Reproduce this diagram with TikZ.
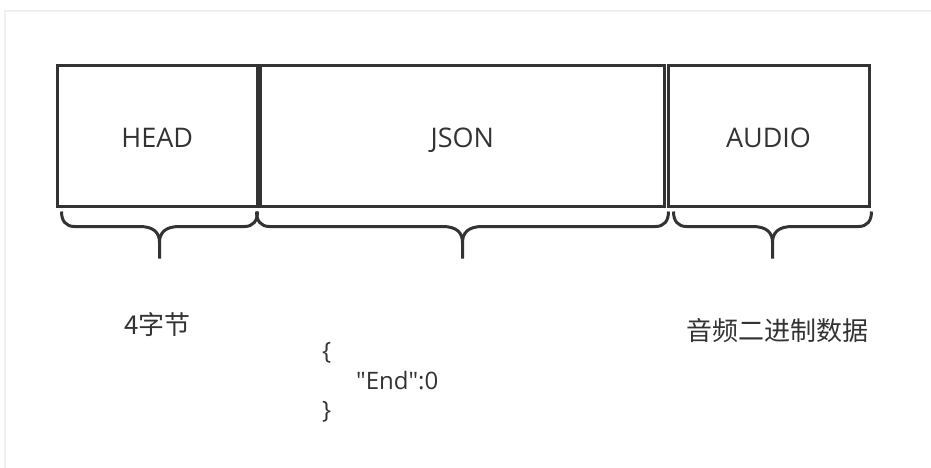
\documentclass[tikz,border=0pt]{standalone}
\usepackage{fontspec}
\setmainfont{Open Sans}
\newfontfamily\codefont{Open Sans}[Ligatures=TeXOff]
\newfontfamily\cjk{Noto Sans CJK SC}
\usetikzlibrary{calc}
\definecolor{ink}{HTML}{333333}
\definecolor{frame}{HTML}{F0F0F0}

\tikzset{
  field/.style={draw=ink, line width=3pt, minimum height=140pt, inner sep=0pt,
    text height=24pt, text depth=2pt, text=ink, font=\fontsize{27}{32}\selectfont},
  bracestroke/.style={draw=ink, line width=3pt, line join=round},
  note/.style={text=ink, font=\cjk\fontsize{26}{30}\selectfont},
  code/.style={text=ink, anchor=base west, inner sep=0pt, font=\codefont\fontsize{24}{30}\selectfont}
}

% curly brace under a field, from #1 to #2
\newcommand{\spanbrace}[2]{%
  \draw[bracestroke] let \p1=(#1), \p2=(#2), \n1={(\x1+\x2)/2} in
    (\x1,\y1) .. controls (\x1,\y1-9pt) and (\x1+4pt,\y1-15pt) .. (\x1+13pt,\y1-15pt)
    -- (\n1-20pt,\y1-15pt) .. controls (\n1-6pt,\y1-15pt) and (\n1,\y1-21pt) .. (\n1,\y1-31pt)
    -- (\n1,\y1-47pt)
    (\x2,\y1) .. controls (\x2,\y1-9pt) and (\x2-4pt,\y1-15pt) .. (\x2-13pt,\y1-15pt)
    -- (\n1+20pt,\y1-15pt) .. controls (\n1+6pt,\y1-15pt) and (\n1,\y1-21pt) .. (\n1,\y1-31pt);
}

\begin{document}
\begin{tikzpicture}[x=1pt,y=-1pt]
   \useasboundingbox (0,0) rectangle (931,468);
   \draw[frame, line width=1.5pt] (5,468) -- (5,11) -- (931,11);

   \node[field, minimum width=200.5pt] (head) at (157.25,136) {HEAD};
   \node[field, minimum width=404.5pt] (json) at (462.25,136) {JSON};
   \node[field, minimum width=201pt] (audio) at (768.5,136) {AUDIO};

   \coordinate (hl) at ([xshift=6pt,yshift=-4pt]head.south west);
   \coordinate (hr) at ([xshift=-1.5pt,yshift=-4pt]head.south east);
   \coordinate (jl) at ([xshift=-2pt,yshift=-4pt]json.south west);
   \coordinate (jr) at ([xshift=2.5pt,yshift=-4pt]json.south east);
   \coordinate (al) at ([xshift=7pt,yshift=-4pt]audio.south west);
   \coordinate (ar) at ([xshift=1pt,yshift=-4pt]audio.south east);
   \spanbrace{hl}{hr}
   \spanbrace{jl}{jr}
   \spanbrace{al}{ar}

   \node[note] (headsize) at (157.5,325) {4字节};
   \node[note] (audiodata) at (777.5,331) {音频二进制数据};
   \node[code] (jsonopen) at (322,359) {\{};
   \node[code] (jsonfield) at (356,389) {"End":0};
   \node[code] (jsonclose) at (322,418) {\}};
\end{tikzpicture}
\end{document}
